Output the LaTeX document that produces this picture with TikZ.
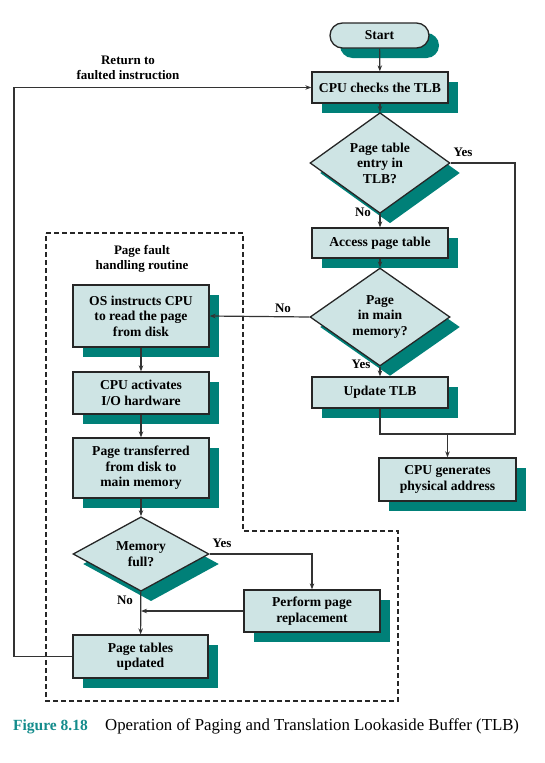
\documentclass[tikz,border=0pt]{standalone}
\usepackage{fontspec}
\setmainfont{Liberation Serif}
\usetikzlibrary{shapes.geometric,shadows,arrows.meta}
\definecolor{boxfill}{RGB}{206,228,228}
\definecolor{shade}{RGB}{0,128,120}
\definecolor{figteal}{RGB}{20,140,140}
\tikzset{
  base/.style={draw=black!85, line width=1.3pt, fill=boxfill,
    font=\bfseries\fontsize{13.6}{15.5}\selectfont, align=center, inner sep=0pt,
    drop shadow={shadow xshift=10pt, shadow yshift=-10pt, fill=shade, opacity=1}},
  procbox/.style={base, rectangle, minimum width=136pt},
  decision/.style={base, diamond, minimum width=140pt, minimum height=70pt},
  terminal/.style={base, rectangle, rounded corners=12.5pt, minimum width=99pt, minimum height=25pt},
  conn/.style={draw=black!80, line width=1.2pt},
  arr/.style={conn, -{Stealth[length=6pt,width=4.5pt]}},
  lbl/.style={font=\bfseries\fontsize{13}{14.5}\selectfont, inner sep=0pt, align=center},
  region/.style={draw=black!85, line width=1.4pt, dash pattern=on 5pt off 3pt},
}
\begin{document}
\begin{tikzpicture}[x=1pt,y=-1pt]
\useasboundingbox (0,0) rectangle (544,763);
% region
\draw[region] (46,233) -- (243,233) -- (243,531) -- (398,531) -- (398,701) -- (46,701) -- cycle;
% nodes
\node[terminal] (start) at (379.5,35.5) {Start};
\node[procbox, minimum height=31pt] (tlb) at (380,87.5) {CPU checks the TLB};
\node[decision] (d1) at (380,163) {Page table\\entry in\\TLB?};
\node[procbox, minimum height=30pt] (apt) at (380,243) {Access page table};
\node[decision] (d2) at (380,317) {Page\\in main\\memory?};
\node[procbox, minimum height=31pt] (utlb) at (380,392.5) {Update TLB};
\node[procbox, minimum width=137pt, minimum height=43pt] (cpug) at (447.5,479.5) {CPU generates\\physical address};
\node[procbox, minimum height=62pt] (os) at (141,316) {OS instructs CPU\\to read the page\\from disk};
\node[procbox, minimum height=42pt] (cpua) at (141,393) {CPU activates\\I/O hardware};
\node[procbox, minimum height=60pt] (ptr) at (141,468) {Page transferred\\from disk to\\main memory};
\node[decision, minimum width=136pt, minimum height=62pt] (d3) at (141,554) {Memory\\full?};
\node[procbox, minimum height=42pt] (perf) at (312,611) {Perform page\\replacement};
\node[procbox, minimum width=135pt, minimum height=43pt] (ptu) at (140.5,656.5) {Page tables\\updated};
% labels
\node[lbl] (regl) at (142,259) {Page fault\\handling routine};
\node[lbl] (retl) at (128,68) {Return to\\faulted instruction};
\node[lbl] (yes1) at (463,152) {Yes};
\node[lbl] (no1) at (363,212) {No};
\node[lbl] (no2) at (283,308) {No};
\node[lbl] (yes2) at (361,364) {Yes};
\node[lbl] (yes3) at (222,543) {Yes};
\node[lbl] (no3) at (125,600) {No};
% coordinates
\coordinate (c1) at (515,434);
\coordinate (j) at (cpug.north |- c1);
\coordinate (rl) at (14,656.5);
% connectors
\draw[arr] (start) -- (tlb);
\draw[arr] (tlb) -- (d1);
\draw[arr] (d1) -- (apt);
\draw[arr] (apt) -- (d2);
\draw[arr] (d2) -- (utlb);
\draw[arr] (d2.west) -- (os.east);
\draw[conn] (d1.east) -| (c1) -- (utlb.south |- c1) -- (utlb.south);
\draw[arr] (j) -- (cpug.north);
\draw[arr] (os) -- (cpua);
\draw[arr] (cpua) -- (ptr);
\draw[arr] (ptr) -- (d3);
\draw[arr] (d3.east) -| (perf.north);
\draw[arr] (d3) -- (ptu);
\draw[arr] (perf.west) -- (d3.south |- perf.west);
\draw[arr] (ptu.west) -- (rl) |- (tlb.west);
% caption
\node[anchor=base west, inner sep=0pt, text=figteal, font=\bfseries\fontsize{15.5}{18}\selectfont] (fig) at (13,730) {Figure 8.18};
\node[anchor=base west, inner sep=0pt, font=\fontsize{16.8}{19}\selectfont] (cap) at (105,730) {Operation of Paging and Translation Lookaside Buffer (TLB)};
\end{tikzpicture}
\end{document}
